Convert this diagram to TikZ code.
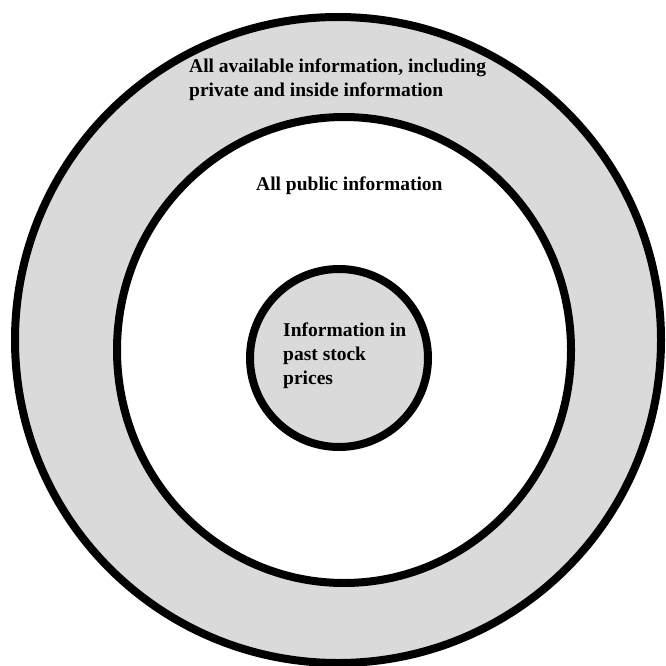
\documentclass[tikz,border=0pt]{standalone}
\usepackage{fontspec}
\setmainfont{Liberation Serif}
\definecolor{ringgray}{RGB}{218,218,218}
\begin{document}
\begin{tikzpicture}[x=1pt, y=-1pt,
    ring/.style={draw=black, line width=8pt},
    infotext/.style={font=\bfseries\fontsize{19.5}{24}\selectfont, align=left, anchor=north west, inner sep=0pt}]
  \useasboundingbox (0,0) rectangle (666,666);
  \fill[white] (0,0) rectangle (666,666);
  % rings
  \draw[ring, fill=ringgray] (338,340) circle[radius=323];
  \draw[ring, fill=white] (344,350) ellipse[x radius=227, y radius=233];
  \draw[ring, fill=ringgray] (339,358) circle[radius=89];
  % texts
  \node[infotext] (allinfo) at (189,59) {All available information, including\\private and inside information};
  \node[infotext] (publicinfo) at (256,177) {All public information};
  \node[infotext] (pastinfo) at (283,323) {Information in\\past stock\\prices};
\end{tikzpicture}
\end{document}
